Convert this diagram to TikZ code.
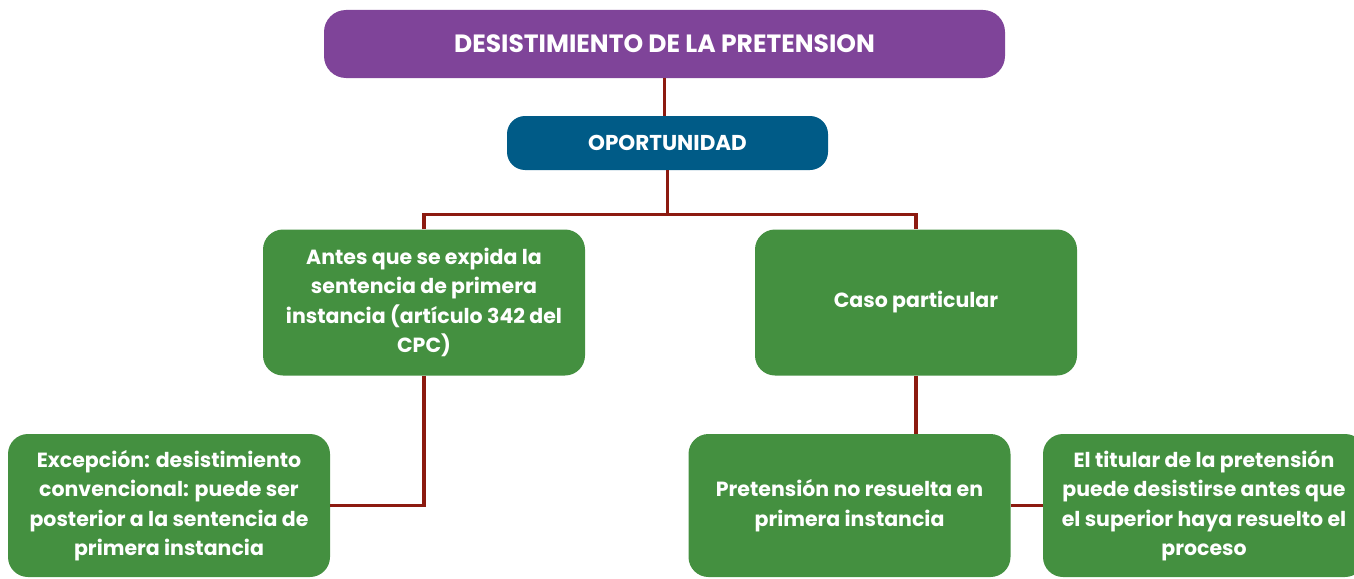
\documentclass[tikz,border=0pt]{standalone}
\usepackage{fontspec}
\setmainfont{Poppins}
\usetikzlibrary{calc}
\definecolor{titlepurple}{RGB}{127,68,153}
\definecolor{opblue}{RGB}{0,91,135}
\definecolor{boxgreen}{RGB}{68,144,64}
\definecolor{linkred}{RGB}{140,26,16}
\begin{document}
\begin{tikzpicture}[x=1pt,y=-1pt,
    box/.style={rounded corners=20pt,fill=boxgreen,text=white,font=\fontsize{20.5}{29.5}\selectfont\bfseries,
        align=center,minimum width=322pt,minimum height=146pt,inner sep=0pt},
    link/.style={linkred,line width=3.2pt}]
    \useasboundingbox (0,0) rectangle (1354,578);
    \node[box,fill=titlepurple,minimum width=681pt,minimum height=68pt,rounded corners=22pt,
        font=\fontsize{25}{29}\selectfont\bfseries] (title) at (664.5,44) {DESISTIMIENTO DE LA PRETENSION};
    \node[box,fill=opblue,minimum width=321pt,minimum height=54pt,rounded corners=18pt,
        font=\fontsize{21.5}{25}\selectfont\bfseries] (op) at (667.5,143) {OPORTUNIDAD};
    \node[box] (antes) at (424,302.5) {Antes que se expida la\\sentencia de primera\\instancia (artículo 342 del\\CPC)};
    \node[box] (caso) at (916,302.5) {Caso particular};
    \node[box,minimum height=143pt] (excep) at (169,505.5) {Excepción: desistimiento\\convencional: puede ser\\posterior a la sentencia de\\primera instancia};
    \node[box,minimum height=143pt] (pret) at (849.5,505.5) {Pretensión no resuelta en\\primera instancia};
    \node[box,minimum height=143pt] (titular) at (1204,505.5) {El titular de la pretensión\\puede desistirse antes que\\el superior haya resuelto el\\proceso};

    \draw[link] (title.south) -- (title.south |- op.north);
    \draw[link] (op.south) -- ++(0,44) coordinate (split);
    \draw[link] (antes.north) |- (split) -| (caso.north);
    \draw[link] (antes.south) |- (excep.east);
    \draw[link] (caso.south) -- (caso.south |- pret.north);
    \draw[link] (pret) -- (titular);
\end{tikzpicture}
\end{document}
